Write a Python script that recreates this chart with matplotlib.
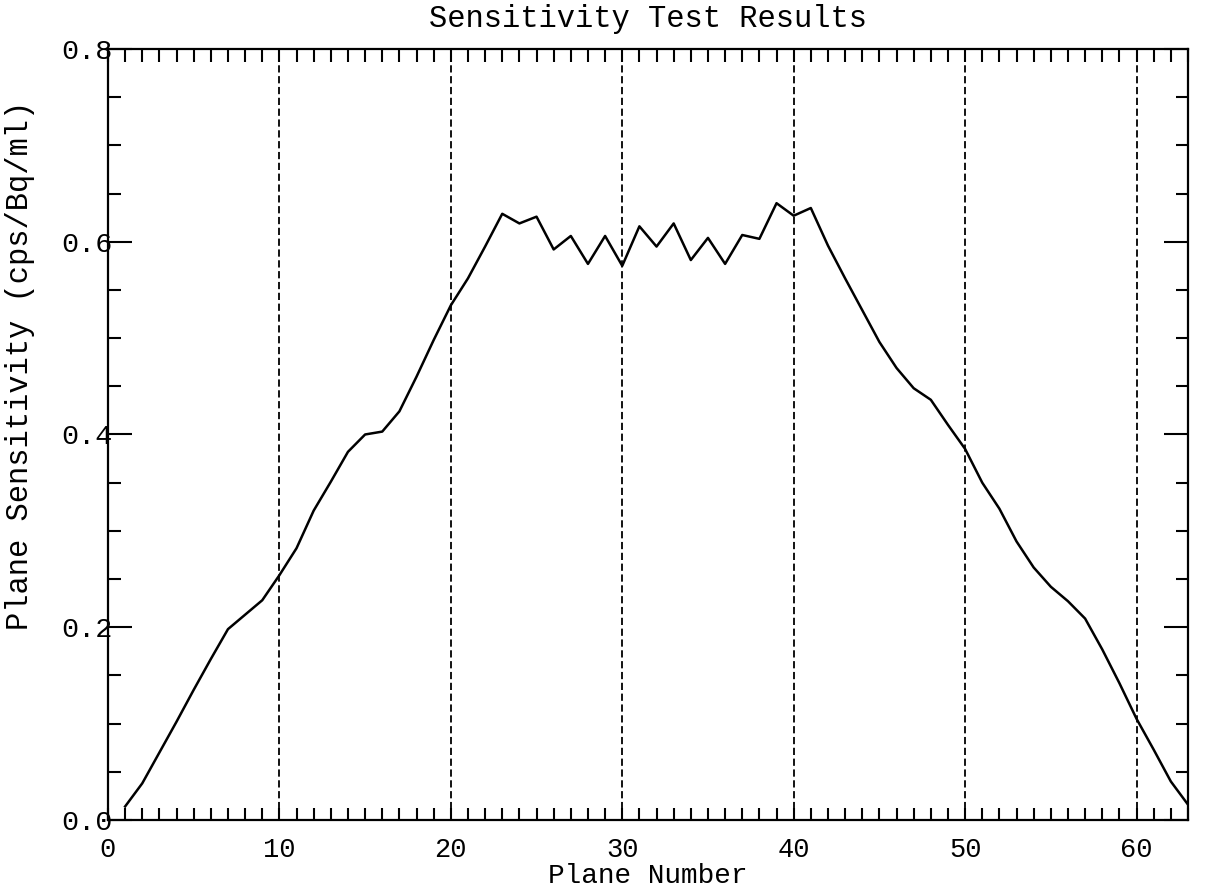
import matplotlib
matplotlib.use("Agg")
import matplotlib.pyplot as plt
from matplotlib.ticker import MultipleLocator, FormatStrFormatter

# plane numbers and the measured sensitivity (cps/Bq/ml)
planes = list(range(1, 64))
sensitivity = [
    0.014, 0.038, 0.070, 0.102, 0.135, 0.167, 0.198, 0.213, 0.228, 0.254,
    0.282, 0.321, 0.351, 0.382, 0.400, 0.403, 0.424, 0.460, 0.498, 0.534,
    0.562, 0.595, 0.629, 0.619, 0.626, 0.592, 0.606, 0.577, 0.606, 0.575,
    0.616, 0.595, 0.619, 0.581, 0.604, 0.577, 0.607, 0.603, 0.640, 0.627,
    0.635, 0.596, 0.562, 0.529, 0.496, 0.469, 0.448, 0.436, 0.410, 0.385,
    0.350, 0.323, 0.289, 0.262, 0.242, 0.227, 0.209, 0.177, 0.142, 0.105,
    0.073, 0.040, 0.016,
]
grid_planes = [10, 20, 30, 40, 50, 60]

plt.rcParams['font.family'] = ['Liberation Mono', 'DejaVu Sans Mono']

fig = plt.figure(figsize=(12.09, 8.94), dpi=100)
ax = fig.add_axes([0.0893, 0.0828, 0.8933, 0.8624])

# dashed vertical guide lines
for g in grid_planes:
    ax.axvline(g, color='black', lw=1.3, linestyle=(0, (4, 2)), zorder=1)

ax.plot(planes, sensitivity, color='black', lw=1.8, zorder=2)

ax.set_xlim(0, 63)
ax.set_ylim(0, 0.8)
ax.xaxis.set_major_locator(MultipleLocator(10))
ax.xaxis.set_minor_locator(MultipleLocator(1))
ax.yaxis.set_major_locator(MultipleLocator(0.2))
ax.yaxis.set_minor_locator(MultipleLocator(0.05))
ax.yaxis.set_major_formatter(FormatStrFormatter('%.1f'))

ax.tick_params(axis='x', which='both', direction='in', top=True, bottom=True,
               length=9, width=1.5, labelsize=19.5, pad=12)
ax.tick_params(axis='y', which='major', direction='in', left=True, right=True,
               length=17, width=1.5, labelsize=20.5, pad=-3)
ax.tick_params(axis='y', which='minor', direction='in', left=True, right=True,
               length=9, width=1.5)

for s in ax.spines.values():
    s.set_linewidth(1.6)

ax.set_xlabel('Plane Number', fontsize=20, labelpad=0)
ax.set_ylabel('Plane Sensitivity (cps/Bq/ml)', fontsize=22, labelpad=12)
ax.yaxis.set_label_coords(-0.068, 0.589)
ax.set_title('Sensitivity Test Results', fontsize=22, pad=16)

fig.savefig('out.png', dpi=100)
